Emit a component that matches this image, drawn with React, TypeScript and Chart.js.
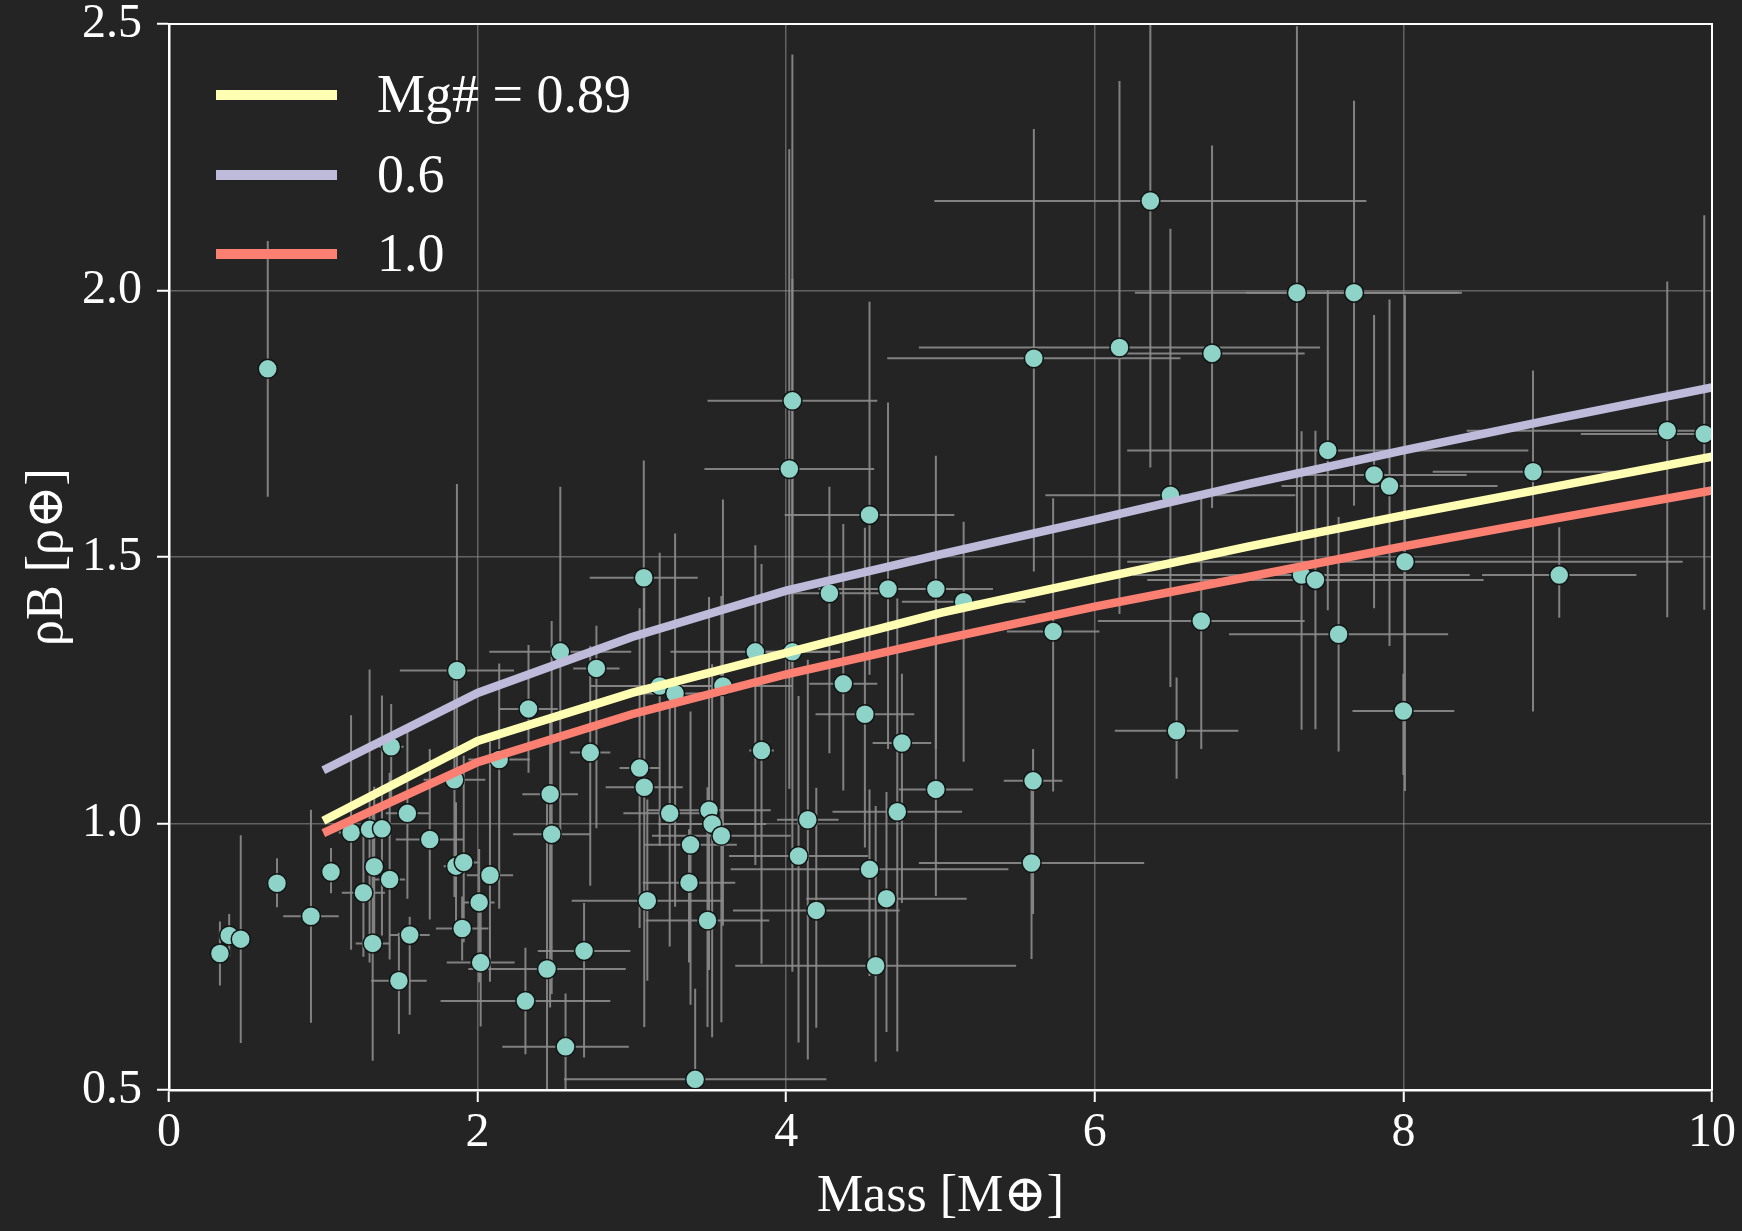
import React, { useEffect, useRef } from 'react';
import { Chart, registerables } from 'chart.js';

Chart.register(...registerables);

// ---- model curves (mass grid in Earth masses) ----
const massGrid = [1, 2, 3, 4, 5, 6, 7, 8, 9, 10];
const densityMg089 = [1.005, 1.155, 1.245, 1.32, 1.395, 1.458, 1.52, 1.578, 1.633, 1.688];
const densityMg06 = [1.1, 1.245, 1.35, 1.437, 1.505, 1.57, 1.637, 1.7, 1.76, 1.818];
const densityMg10 = [0.982, 1.115, 1.205, 1.28, 1.345, 1.407, 1.463, 1.52, 1.573, 1.625];
const seriesLabels = ['Mg# = 0.89', '0.6', '1.0'];
const seriesColors = ['#ffffb3', '#bebada', '#fb8072'];

// ---- observed planets ----
const planetMass = [
  0.33, 0.39, 0.465, 0.64, 0.70, 0.92, 1.05, 1.18, 1.26, 1.30,
  1.32, 1.33, 1.38, 1.43, 1.44, 1.49, 1.545, 1.56, 1.69, 1.85,
  1.866, 1.86, 1.91, 1.90, 2.01, 2.02, 2.08, 2.14, 2.33, 2.31,
  2.45, 2.47, 2.48, 2.536, 2.57, 2.69, 2.73, 2.77, 3.05, 3.077,
  3.08, 3.10, 3.18, 3.245, 3.28, 3.37, 3.38, 3.41, 3.49, 3.50,
  3.52, 3.58, 3.59, 3.80, 3.84, 4.02, 4.04, 4.04, 4.08, 4.14,
  4.195, 4.28, 4.37, 4.51, 4.54, 4.54, 4.58, 4.65, 4.66, 4.72,
  4.75, 4.97, 4.97, 5.15, 5.59, 5.605, 5.60, 5.73, 6.16, 6.36,
  6.49, 6.53, 6.69, 6.76, 7.31, 7.34, 7.43, 7.51, 7.58, 7.68,
  7.81, 7.91, 8.0, 8.01, 8.84, 9.01, 9.71, 9.95,
];
const planetMassErr = [
  0.02, 0.02, 0.06, 0.02, 0.02, 0.18, 0.02, 0.08, 0.14, 0.05,
  0.11, 0.06, 0.06, 0.10, 0.08, 0.18, 0.14, 0.13, 0.22, 0.20,
  0.37, 0.08, 0.10, 0.17, 0.10, 0.22, 0.15, 0.20, 0.19, 0.55,
  0.51, 0.18, 0.25, 0.46, 0.41, 0.30, 0.13, 0.15, 0.13, 0.35,
  0.25, 0.49, 0.45, 0.30, 0.30, 0.30, 0.30, 0.85, 0.40, 0.40,
  0.35, 0.45, 0.45, 0.55, 0.08, 0.55, 0.55, 0.30, 0.45, 0.20,
  0.54, 0.35, 0.22, 0.32, 0.55, 0.90, 0.91, 0.52, 0.45, 0.42,
  0.19, 0.37, 0.24, 0.40, 0.73, 0.95, 0.19, 0.30, 1.30, 1.40,
  0.81, 0.40, 0.67, 0.60, 1.05, 1.09, 1.09, 1.30, 0.71, 0.70,
  0.60, 0.70, 0.33, 1.80, 0.65, 0.50, 1.30, 0.80,
];
const planetDensity = [
  0.756, 0.79, 0.783, 1.853, 0.888, 0.826, 0.909, 0.983, 0.870, 0.989,
  0.775, 0.919, 0.99, 0.895, 1.144, 0.705, 1.019, 0.791, 0.970, 1.082,
  1.287, 0.920, 0.927, 0.803, 0.852, 0.739, 0.903, 1.12, 1.215, 0.667,
  0.727, 1.055, 0.98, 1.322, 0.581, 0.761, 1.133, 1.291, 1.104, 1.461,
  1.068, 0.855, 1.258, 1.019, 1.244, 0.889, 0.96, 0.52, 0.818, 1.025,
  0.999, 0.977, 1.258, 1.322, 1.137, 1.665, 1.793, 1.322, 0.939, 1.007,
  0.837, 1.432, 1.262, 1.205, 1.579, 0.914, 0.733, 0.859, 1.44, 1.022,
  1.151, 1.44, 1.064, 1.416, 0.926, 1.873, 1.08, 1.36, 1.893, 2.168,
  1.616, 1.174, 1.38, 1.882, 1.996, 1.466, 1.457, 1.70, 1.355, 1.996,
  1.654, 1.633, 1.211, 1.491, 1.66, 1.466, 1.737, 1.731,
];
const planetDensityErrUp = [
  0.06, 0.04, 0.195, 0.24, 0.047, 0.20, 0.045, 0.22, 0.12, 0.30,
  0.25, 0.15, 0.25, 0.20, 0.08, 0.09, 0.16, 0.034, 0.17, 0.22,
  0.35, 0.12, 0.20, 0.06, 0.10, 0.12, 0.25, 0.18, 0.12, 0.10,
  0.32, 0.15, 0.40, 0.31, 0.10, 0.09, 0.20, 0.08, 0.30, 0.22,
  0.40, 0.19, 0.25, 0.20, 0.30, 0.10, 0.25, 0.17, 0.25, 0.40,
  0.30, 0.45, 0.35, 0.20, 0.35, 0.60, 0.65, 0.70, 0.30, 0.30,
  0.23, 0.20, 0.30, 0.35, 0.40, 0.15, 0.30, 0.20, 0.35, 0.40,
  0.13, 0.25, 0.36, 0.15, 0.15, 0.43, 0.06, 0.25, 0.50, 0.33,
  0.50, 0.10, 0.24, 0.39, 0.50, 0.27, 0.28, 0.30, 0.22, 0.36,
  0.30, 0.35, 0.07, 0.50, 0.19, 0.09, 0.28, 0.41,
];
const planetDensityErrDown = [
  0.06, 0.04, 0.195, 0.24, 0.045, 0.20, 0.04, 0.22, 0.12, 0.25,
  0.22, 0.15, 0.20, 0.15, 0.10, 0.10, 0.16, 0.15, 0.15, 0.22,
  0.20, 0.12, 0.15, 0.06, 0.15, 0.12, 0.20, 0.28, 0.12, 0.10,
  0.26, 0.40, 0.30, 0.35, 0.08, 0.20, 0.25, 0.30, 0.30, 0.20,
  0.45, 0.15, 0.30, 0.25, 0.40, 0.15, 0.30, 0.02, 0.20, 0.30,
  0.40, 0.35, 0.45, 0.40, 0.40, 0.60, 0.50, 0.60, 0.35, 0.45,
  0.22, 0.30, 0.20, 0.25, 0.30, 0.20, 0.18, 0.25, 0.30, 0.45,
  0.30, 0.30, 0.20, 0.30, 0.18, 0.40, 0.25, 0.30, 0.50, 0.50,
  0.36, 0.09, 0.24, 0.29, 0.45, 0.29, 0.28, 0.30, 0.22, 0.40,
  0.25, 0.30, 0.12, 0.43, 0.45, 0.08, 0.35, 0.33,
];

// ---- axes ----
const xTickValues = [0, 2, 4, 6, 8, 10];
const yTickValues = [0.5, 1.0, 1.5, 2.0, 2.5];
const xTitle = 'Mass [M⊕]';
const yTitle = 'ρB [ρ⊕]';

const BG = '#242424';
const SERIF = "'Liberation Serif', 'DejaVu Serif', 'Times New Roman', serif";

const backgroundPlugin = {
  id: 'bgFill',
  beforeDraw(chart: any) {
    const { ctx, width, height } = chart;
    ctx.save();
    ctx.fillStyle = BG;
    ctx.fillRect(0, 0, width, height);
    ctx.restore();
  },
};

const errorBarPlugin = {
  id: 'errorBars',
  beforeDatasetsDraw(chart: any) {
    const { ctx, chartArea, scales } = chart;
    const xs = scales.x;
    const ys = scales.y;
    ctx.save();
    ctx.beginPath();
    ctx.rect(chartArea.left, chartArea.top, chartArea.right - chartArea.left, chartArea.bottom - chartArea.top);
    ctx.clip();
    ctx.strokeStyle = 'rgba(140,140,140,0.9)';
    ctx.lineWidth = 2;
    for (let i = 0; i < planetMass.length; i++) {
      const m = planetMass[i];
      const d = planetDensity[i];
      const px = xs.getPixelForValue(m);
      const py = ys.getPixelForValue(d);
      ctx.beginPath();
      ctx.moveTo(xs.getPixelForValue(m - planetMassErr[i]), py);
      ctx.lineTo(xs.getPixelForValue(m + planetMassErr[i]), py);
      ctx.moveTo(px, ys.getPixelForValue(d - planetDensityErrDown[i]));
      ctx.lineTo(px, ys.getPixelForValue(d + planetDensityErrUp[i]));
      ctx.stroke();
    }
    ctx.restore();
  },
};

const framePlugin = {
  id: 'frameAndLegend',
  afterDraw(chart: any) {
    const { ctx, chartArea } = chart;
    ctx.save();
    ctx.strokeStyle = '#ffffff';
    ctx.lineWidth = 2;
    ctx.strokeRect(chartArea.left, chartArea.top, chartArea.right - chartArea.left, chartArea.bottom - chartArea.top);
    // legend
    const rows = [71, 151, 230];
    ctx.font = `54px ${SERIF}`;
    ctx.textBaseline = 'middle';
    ctx.textAlign = 'left';
    for (let i = 0; i < 3; i++) {
      const ds = chart.data.datasets[i];
      const y = chartArea.top + rows[i];
      ctx.strokeStyle = ds.borderColor;
      ctx.lineWidth = 10;
      ctx.lineCap = 'butt';
      ctx.beginPath();
      ctx.moveTo(chartArea.left + 47, y);
      ctx.lineTo(chartArea.left + 168, y);
      ctx.stroke();
      ctx.fillStyle = '#ffffff';
      ctx.fillText(ds.label, chartArea.left + 208, y + 3);
    }
    ctx.restore();
  },
};

function toPoints(xs: number[], ys: number[]) {
  return xs.map((x, i) => ({ x, y: ys[i] }));
}

export default function App() {
  const canvasRef = useRef<HTMLCanvasElement | null>(null);

  useEffect(() => {
    document.body.style.margin = '0';
    document.body.style.background = BG;
    const canvas = canvasRef.current;
    if (!canvas) return;
    const curves = [densityMg089, densityMg06, densityMg10];
    const lineSets = curves.map((c, i) => ({
      type: 'line' as const,
      label: seriesLabels[i],
      data: toPoints(massGrid, c),
      borderColor: seriesColors[i],
      backgroundColor: seriesColors[i],
      borderWidth: 8.5,
      pointRadius: 0,
      fill: false,
      tension: 0,
    }));
    const chart = new Chart(canvas, {
      type: 'scatter',
      data: {
        datasets: [
          ...lineSets,
          {
            type: 'scatter' as const,
            label: 'planets',
            data: toPoints(planetMass, planetDensity),
            pointRadius: 9.5,
            pointBackgroundColor: '#8dd3c7',
            pointBorderColor: '#141414',
            pointBorderWidth: 1.5,
            showLine: false,
          },
        ] as any,
      },
      options: {
        animation: false,
        responsive: false,
        devicePixelRatio: 1,
        layout: { padding: { top: 24, right: 30, left: 0, bottom: 0 } },
        plugins: {
          legend: { display: false },
          tooltip: { enabled: false },
        },
        scales: {
          x: {
            type: 'linear',
            min: 0,
            max: 10,
            afterBuildTicks: (s: any) => {
              s.ticks = xTickValues.map((v) => ({ value: v }));
            },
            afterFit: (s: any) => {
              s.height = 141;
              s.paddingLeft = 0;
              s.paddingRight = 0;
            },
            ticks: {
              color: '#ffffff',
              font: { family: SERIF, size: 48 },
              padding: 3,
              maxRotation: 0,
              callback: (v: any) => String(v),
            },
            grid: {
              color: 'rgba(150,150,150,0.55)',
              lineWidth: 1.5,
              tickColor: '#ffffff',
              tickLength: 12,
              tickWidth: 2,
            },
            border: { color: '#ffffff', width: 2.5 },
            title: {
              display: true,
              text: xTitle,
              color: '#ffffff',
              font: { family: SERIF, size: 52 },
              padding: { top: 0, bottom: 2 },
            },
          },
          y: {
            type: 'linear',
            min: 0.5,
            max: 2.5,
            afterBuildTicks: (s: any) => {
              s.ticks = yTickValues.map((v) => ({ value: v }));
            },
            afterFit: (s: any) => {
              s.width = 169;
              s.paddingTop = 0;
              s.paddingBottom = 0;
            },
            ticks: {
              color: '#ffffff',
              font: { family: SERIF, size: 48 },
              padding: 15,
              callback: (v: any) => Number(v).toFixed(1),
            },
            grid: {
              color: 'rgba(150,150,150,0.55)',
              lineWidth: 1.5,
              tickColor: '#ffffff',
              tickLength: 12,
              tickWidth: 2,
            },
            border: { color: '#ffffff', width: 2.5 },
            title: {
              display: true,
              text: yTitle,
              color: '#ffffff',
              font: { family: SERIF, size: 52 },
              padding: { top: 17, bottom: 0 },
            },
          },
        },
      },
      plugins: [backgroundPlugin, errorBarPlugin, framePlugin],
    });
    return () => chart.destroy();
  }, []);

  return (
    <div style={{ width: 1742, height: 1231, background: BG }}>
      <canvas ref={canvasRef} width={1742} height={1231} style={{ display: 'block', width: 1742, height: 1231 }} />
    </div>
  );
}
